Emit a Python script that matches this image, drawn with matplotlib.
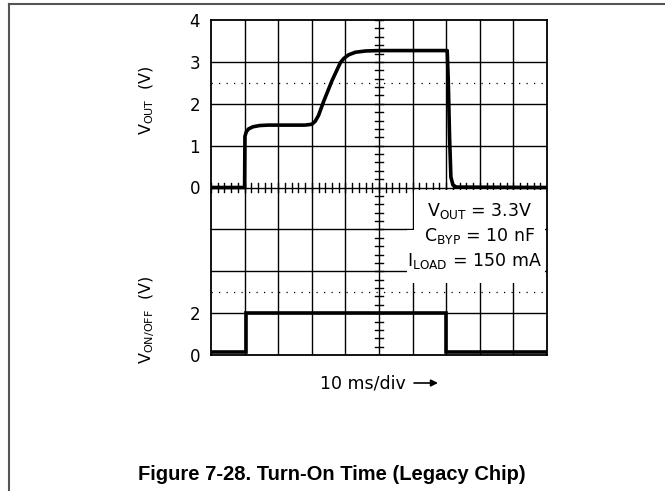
import numpy as np
import matplotlib
matplotlib.use("Agg")
import matplotlib.pyplot as plt
from matplotlib.lines import Line2D
from matplotlib.patches import Rectangle, FancyArrowPatch

plt.rcParams['font.family'] = ['DejaVu Sans']
plt.rcParams['mathtext.fontset'] = 'dejavusans'

# Scope settings: 10 x 8 divisions
n_xdiv = 10
n_ydiv = 8
vout_zero_div = 4      # V_OUT trace zero line (divisions from bottom)
vout_per_div = 1.0     # V/div
ven_zero_div = 0
ven_per_div = 2.0      # V/div

# V_OUT trace (time in divisions, 10 ms/div)
t_out = [0, 1.0, 1.01, 1.05, 1.12, 1.25, 1.45, 1.7, 2.2, 2.8, 3.0, 3.1, 3.2, 3.35,
         3.6, 3.85, 3.95, 4.1, 4.3, 4.6, 5.0, 6.0, 7.03, 7.06, 7.1, 7.14, 7.2, 7.3, 10]
v_out = [0, 0, 1.22, 1.33, 1.40, 1.45, 1.48, 1.49, 1.49, 1.49, 1.51, 1.58, 1.72, 2.05,
         2.55, 2.98, 3.08, 3.17, 3.23, 3.26, 3.27, 3.27, 3.27, 2.6, 1.2, 0.25, 0.06, 0.01, 0]

# V_ON/OFF trace
t_en = [0, 1.03, 1.03, 7.0, 7.0, 10]
v_en = [0.13, 0.13, 2.02, 2.02, 0.15, 0.15]

vout_ticks = [0, 1, 2, 3, 4]
ven_ticks = [0, 2]

fig = plt.figure(figsize=(6.65, 4.91), dpi=100)
ax = fig.add_axes([211 / 665, 1 - 355 / 491, 336 / 665, 335 / 491])
ax.set_xlim(0, n_xdiv)
ax.set_ylim(0, n_ydiv)

# graticule
for i in range(1, n_xdiv):
    ax.axvline(i, color='black', lw=1.0, zorder=1)
for j in range(1, n_ydiv):
    ax.axhline(j, color='black', lw=1.0, zorder=1)
for sp in ax.spines.values():
    sp.set_linewidth(1.3)

# dotted reference lines
ax.axhline(vout_zero_div + 2.5 / vout_per_div, color='black', lw=0.9,
           ls=(0, (1, 5)), zorder=1)
ax.axhline(ven_zero_div + 3.0 / ven_per_div, color='black', lw=0.9,
           ls=(0, (1, 5)), zorder=1)

# minor ticks on centre lines
cx = n_xdiv / 2
for k in range(0, n_xdiv * 5 + 1):
    x = k / 5
    ax.plot([x, x], [vout_zero_div - 0.1, vout_zero_div + 0.1], color='black', lw=1.0, zorder=1)
for k in range(0, n_ydiv * 5 + 1):
    y = k / 5
    ax.plot([cx - 0.11, cx + 0.11], [y, y], color='black', lw=1.0, zorder=1)

# mask behind the conditions text
ax.add_patch(Rectangle((6.04, 1.72), 3.9, 2.22, facecolor='white', edgecolor='none', zorder=2))
ax.add_patch(Rectangle((5.83, 1.72), 0.25, 1.26, facecolor='white', edgecolor='none', zorder=2))

# traces
ax.plot(np.array(t_out), vout_zero_div + np.array(v_out) / vout_per_div,
        color='black', lw=2.6, zorder=4, solid_joinstyle='round')
ax.plot(np.array(t_en), ven_zero_div + np.array(v_en) / ven_per_div,
        color='black', lw=2.6, zorder=4, solid_joinstyle='miter')

# ticks
ypos = [vout_zero_div + v / vout_per_div for v in vout_ticks] + \
       [ven_zero_div + v / ven_per_div for v in ven_ticks]
ylab = [str(v) for v in vout_ticks] + [str(v) for v in ven_ticks]
ax.set_yticks(ypos)
ax.set_yticklabels(ylab, fontsize=12)
ax.set_xticks([])
ax.tick_params(axis='y', length=0, pad=8)

# conditions text
ax.text(7.98, 3.44, r'V$_{\mathrm{OUT}}$ = 3.3V', ha='center', va='center', fontsize=12.5, zorder=3)
ax.text(7.98, 2.84, r'C$_{\mathrm{BYP}}$ = 10 nF', ha='center', va='center', fontsize=12.5, zorder=3)
ax.text(7.85, 2.24, r'I$_{\mathrm{LOAD}}$ = 150 mA', ha='center', va='center', fontsize=12.5, zorder=3)

# axis labels
fig.text(147 / 665, 1 - 100 / 491, r'V$_{\mathrm{OUT}}$  (V)', rotation=90,
         ha='center', va='center', fontsize=11.5)
fig.text(147 / 665, 1 - 320 / 491, r'V$_{\mathrm{ON/OFF}}$  (V)', rotation=90,
         ha='center', va='center', fontsize=11.5)
fig.text(320 / 665, 1 - 383 / 491, '10 ms/div', ha='left', va='center', fontsize=12.5)
fig.add_artist(FancyArrowPatch(
    (414 / 665, 1 - 383 / 491), (438 / 665, 1 - 383 / 491),
    transform=fig.transFigure, arrowstyle='-|>', mutation_scale=10,
    color='black', lw=1.2, shrinkA=0, shrinkB=0))

# caption
fig.text(332 / 665, 1 - 475 / 491, 'Figure 7-28. Turn-On Time (Legacy Chip)',
         ha='center', va='center', fontsize=14.5, fontweight='bold',
         family=['Liberation Sans', 'DejaVu Sans'])

# page frame
fig.add_artist(Line2D([8.5 / 665, 1], [1 - 3.5 / 491, 1 - 3.5 / 491], color='#555555', lw=1.5))
fig.add_artist(Line2D([8.5 / 665, 8.5 / 665], [0, 1 - 3.5 / 491], color='#555555', lw=1.5))

fig.savefig('out.png', dpi=100)
